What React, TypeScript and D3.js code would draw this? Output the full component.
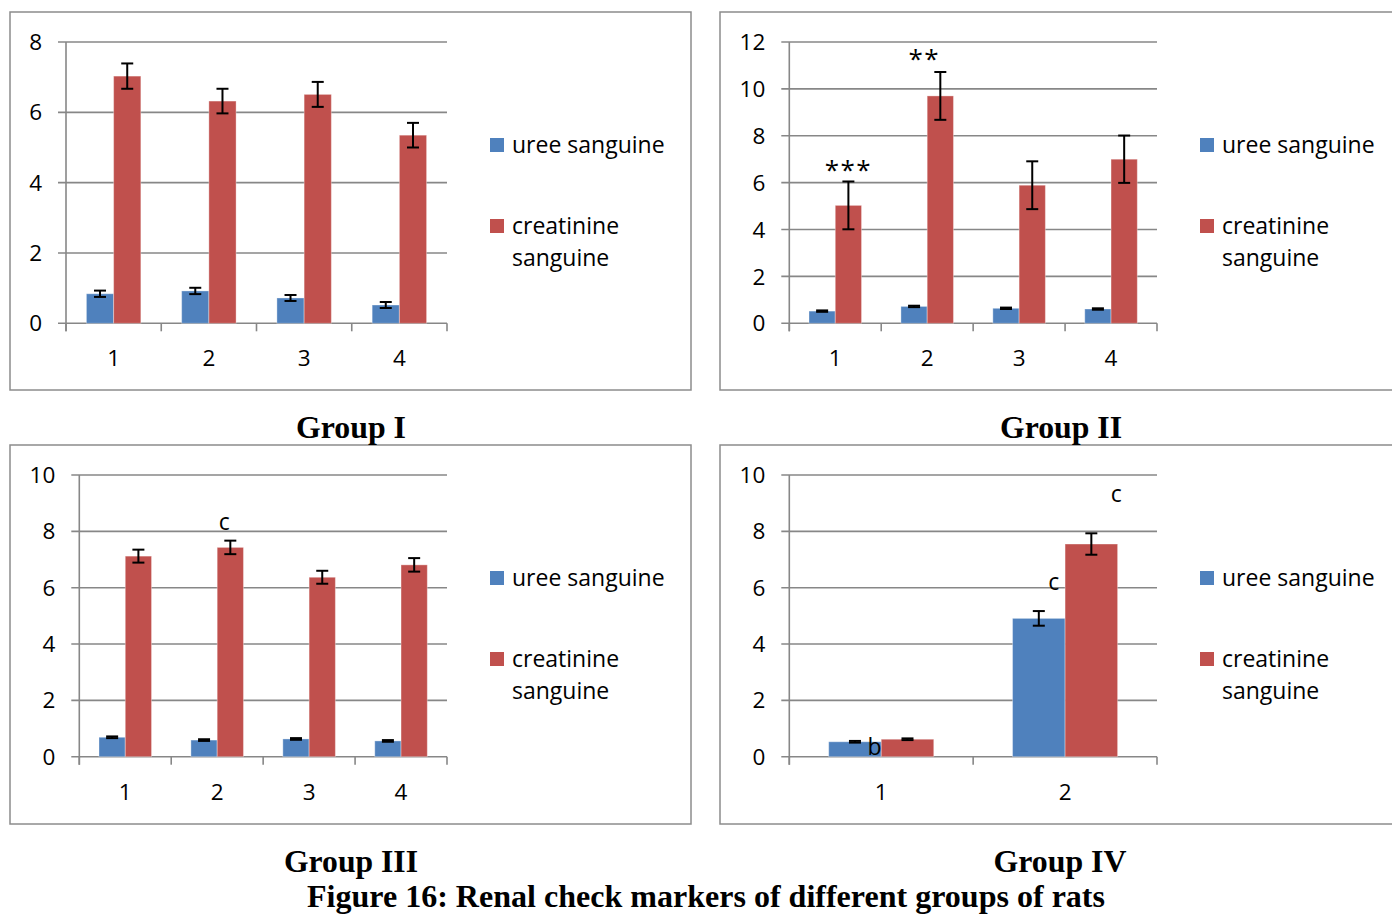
import React from "react";
import * as d3 from "d3";

// ---------- data ----------
const seriesNames = ["uree sanguine", "creatinine sanguine"];
const seriesColors = ["#4F81BD", "#C0504D"];

const g1Cats = ["1", "2", "3", "4"];
const g1Uree = [0.84, 0.92, 0.72, 0.52];
const g1UreeErr = [0.09, 0.09, 0.085, 0.085];
const g1Crea = [7.03, 6.32, 6.51, 5.35];
const g1CreaErr = [0.36, 0.35, 0.355, 0.35];
const g1Ticks = [0, 2, 4, 6, 8];

const g2Cats = ["1", "2", "3", "4"];
const g2Uree = [0.52, 0.72, 0.64, 0.61];
const g2UreeErr = [0.03, 0.03, 0.03, 0.03];
const g2Crea = [5.03, 9.7, 5.89, 7.0];
const g2CreaErr = [1.02, 1.02, 1.02, 1.01];
const g2Ticks = [0, 2, 4, 6, 8, 10, 12];

const g3Cats = ["1", "2", "3", "4"];
const g3Uree = [0.69, 0.59, 0.63, 0.56];
const g3UreeErr = [0.03, 0.03, 0.03, 0.03];
const g3Crea = [7.12, 7.43, 6.37, 6.81];
const g3CreaErr = [0.23, 0.24, 0.23, 0.24];
const g3Ticks = [0, 2, 4, 6, 8, 10];

const g4Cats = ["1", "2"];
const g4Uree = [0.53, 4.91];
const g4UreeErr = [0.03, 0.26];
const g4Crea = [0.62, 7.55];
const g4CreaErr = [0.03, 0.38];
const g4Ticks = [0, 2, 4, 6, 8, 10];

// annotations: text, category index, series index, value (y), pixel dx
const g2Notes = [
  { text: "***", cat: 0, s: 1, v: 6.55, dx: 0 },
  { text: "**", cat: 1, s: 1, v: 11.3, dx: -16 },
];
const g3Notes = [{ text: "c", cat: 1, s: 1, v: 8.34, dx: -6 }];
const g4Notes = [
  { text: "b", cat: 0, s: 1, v: 0.34, dx: -33 },
  { text: "c", cat: 1, s: 0, v: 6.21, dx: 15 },
  { text: "c", cat: 1, s: 1, v: 9.34, dx: 25 },
];

const groupTitles = ["Group I", "Group II", "Group III", "Group IV"];
const caption = "Figure 16: Renal check markers of different groups of rats";

// ---------- layout ----------
const FONT = "'Open Sans', 'Noto Sans', sans-serif";
const GRID = "#878787";

type Note = { text: string; cat: number; s: number; v: number; dx: number };
type PanelProps = {
  frame: [number, number, number, number];
  plot: { left: number; right: number; top: number; bottom: number };
  cats: string[];
  values: number[][];
  errs: number[][];
  ticks: number[];
  legendX: number;
  legendY: number;
  notes: Note[];
};

function Panel(p: PanelProps) {
  const { plot, cats, values, errs, ticks } = p;
  const yMax = ticks[ticks.length - 1];
  const y = d3.scaleLinear().domain([0, yMax]).range([plot.bottom, plot.top]);
  const x = d3
    .scaleBand<string>()
    .domain(cats)
    .range([plot.left, plot.right])
    .paddingInner(0)
    .paddingOuter(0);
  const step = x.bandwidth();
  const barW = step / 3.5;
  const inner = d3
    .scaleBand<number>()
    .domain([0, 1])
    .range([0.75 * barW, 0.75 * barW + 2 * barW]);
  const boundaries = d3.range(cats.length + 1).map((i) => plot.left + i * step);
  return (
    <g>
      <rect
        x={p.frame[0]}
        y={p.frame[1]}
        width={p.frame[2]}
        height={p.frame[3]}
        fill="white"
        stroke="#8c8c8c"
        strokeWidth={1.5}
      />
      {ticks.map((t) => (
        <g key={t}>
          <line
            x1={plot.left - 8}
            x2={plot.right}
            y1={y(t)}
            y2={y(t)}
            stroke={GRID}
            strokeWidth={1.6}
          />
          <text
            x={plot.left - 24}
            y={y(t)}
            dy="0.36em"
            textAnchor="end"
            fontFamily={FONT}
            fontSize={22.5}
            fill="#000"
          >
            {t}
          </text>
        </g>
      ))}
      <line x1={plot.left} x2={plot.left} y1={plot.top} y2={plot.bottom + 8} stroke={GRID} strokeWidth={1.6} />
      {boundaries.map((bx, i) => (
        <line key={i} x1={bx} x2={bx} y1={plot.bottom} y2={plot.bottom + 8} stroke={GRID} strokeWidth={1.6} />
      ))}
      {cats.map((c) => (
        <text
          key={c}
          x={(x(c) as number) + step / 2}
          y={plot.bottom + 35}
          dy="0.36em"
          textAnchor="middle"
          fontFamily={FONT}
          fontSize={22.5}
        >
          {c}
        </text>
      ))}
      {values.map((vals, s) =>
        vals.map((v, i) => {
          const bx = (x(cats[i]) as number) + (inner(s) as number);
          return (
            <rect
              key={`${s}-${i}`}
              x={bx}
              y={y(v)}
              width={barW}
              height={plot.bottom - y(v)}
              fill={seriesColors[s]}
              stroke="rgba(255,255,255,0.35)"
              strokeWidth={1}
            />
          );
        })
      )}
      {values.map((vals, s) =>
        vals.map((v, i) => {
          const cx = (x(cats[i]) as number) + (inner(s) as number) + barW / 2;
          const e = errs[s][i];
          const y1 = y(v + e);
          const y2 = y(v - e);
          return (
            <g key={`e${s}-${i}`} stroke="#000" strokeWidth={2}>
              <line x1={cx} x2={cx} y1={y1} y2={y2} />
              <line x1={cx - 6} x2={cx + 6} y1={y1} y2={y1} />
              <line x1={cx - 6} x2={cx + 6} y1={y2} y2={y2} />
            </g>
          );
        })
      )}
      {p.notes.map((n, k) => (
        <text
          key={k}
          x={(x(cats[n.cat]) as number) + (inner(n.s) as number) + barW / 2 + n.dx}
          y={y(n.v)}
          dy="0.36em"
          textAnchor="middle"
          fontFamily={FONT}
          fontSize={n.text.startsWith("*") ? 26 : 23}
          letterSpacing={n.text.startsWith("*") ? 1.5 : 0}
        >
          {n.text}
        </text>
      ))}
      <g fontFamily={FONT} fontSize={23}>
        <rect x={p.legendX - 22} y={p.legendY - 7} width={14} height={14} fill={seriesColors[0]} />
        <text x={p.legendX} y={p.legendY} dy="0.36em">
          {seriesNames[0]}
        </text>
        <rect x={p.legendX - 22} y={p.legendY + 74} width={14} height={14} fill={seriesColors[1]} />
        <text x={p.legendX} y={p.legendY + 81} dy="0.36em">
          creatinine
        </text>
        <text x={p.legendX} y={p.legendY + 113} dy="0.36em">
          sanguine
        </text>
      </g>
    </g>
  );
}

const titleFont = "'Liberation Serif', 'Times New Roman', serif";

export default function App() {
  return (
    <svg
      width={1392}
      height={914}
      style={{ position: "absolute", left: 0, top: 0, background: "white" }}
    >
      <rect width={1392} height={914} fill="white" />
      <Panel
        frame={[10, 12, 681, 378]}
        plot={{ left: 66, right: 447, top: 42, bottom: 323.3 }}
        cats={g1Cats}
        values={[g1Uree, g1Crea]}
        errs={[g1UreeErr, g1CreaErr]}
        ticks={g1Ticks}
        legendX={512}
        legendY={145}
        notes={[]}
      />
      <Panel
        frame={[720, 12, 700, 378]}
        plot={{ left: 789.3, right: 1157, top: 42, bottom: 323.3 }}
        cats={g2Cats}
        values={[g2Uree, g2Crea]}
        errs={[g2UreeErr, g2CreaErr]}
        ticks={g2Ticks}
        legendX={1222}
        legendY={145}
        notes={g2Notes}
      />
      <Panel
        frame={[10, 445, 681, 379]}
        plot={{ left: 79.3, right: 447, top: 475, bottom: 756.7 }}
        cats={g3Cats}
        values={[g3Uree, g3Crea]}
        errs={[g3UreeErr, g3CreaErr]}
        ticks={g3Ticks}
        legendX={512}
        legendY={578}
        notes={g3Notes}
      />
      <Panel
        frame={[720, 445, 700, 379]}
        plot={{ left: 789.3, right: 1157, top: 475, bottom: 756.7 }}
        cats={g4Cats}
        values={[g4Uree, g4Crea]}
        errs={[g4UreeErr, g4CreaErr]}
        ticks={g4Ticks}
        legendX={1222}
        legendY={578}
        notes={g4Notes}
      />
      <g fontFamily={titleFont} fontWeight="bold" fontSize={32} textAnchor="middle">
        <text x={351} y={438} textLength={110} lengthAdjust="spacingAndGlyphs">{groupTitles[0]}</text>
        <text x={1061} y={438} textLength={122} lengthAdjust="spacingAndGlyphs">{groupTitles[1]}</text>
        <text x={351} y={872} textLength={134} lengthAdjust="spacingAndGlyphs">{groupTitles[2]}</text>
        <text x={1060} y={872} textLength={133} lengthAdjust="spacingAndGlyphs">{groupTitles[3]}</text>
        <text x={706} y={907} textLength={798} lengthAdjust="spacingAndGlyphs">{caption}</text>
      </g>
    </svg>
  );
}
